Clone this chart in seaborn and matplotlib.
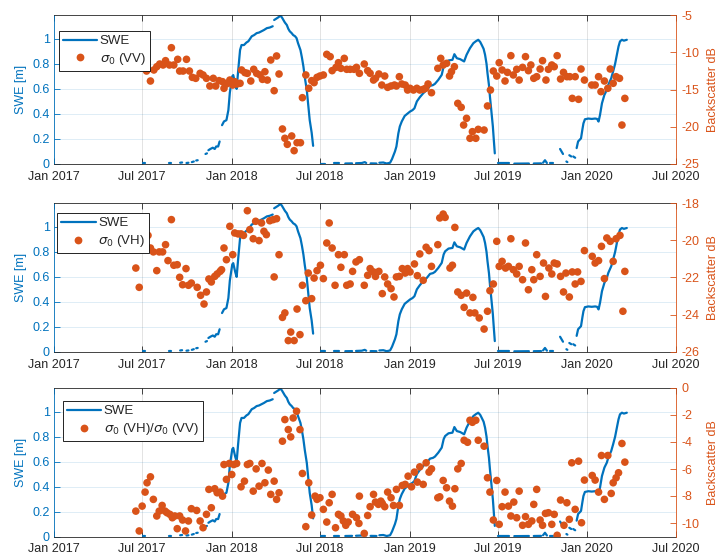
import numpy as np
import pandas as pd
import matplotlib
matplotlib.use("Agg")
import matplotlib.pyplot as plt
import matplotlib.dates as mdates
from matplotlib.lines import Line2D
import seaborn as sns

nan = np.nan

# Observation dates are stored as days since 1 Jan 2017.
START = pd.Timestamp("2017-01-01")
END = pd.Timestamp("2020-07-01")

# Snow water equivalent (m); NaN entries mark gaps in the record
swe_obs = [
    (182, 0.004), (187, 0.004), (188, nan),
    (236, 0.005), (241, 0.005), (242, nan),
    (259, 0.010), (263, 0.012), (264, nan),
    (272, 0.008), (276, 0.010), (277, nan),
    (283, 0.015), (287, 0.020), (288, nan),
    (292, 0.028), (295, 0.030), (296, nan),
    (311, 0.080), (314, 0.085), (315, nan),
    (317, 0.11), (321, 0.12), (326, 0.13), (330, 0.12), (333, 0.14), (337, 0.14), (340, 0.18), (342, nan),
    (345, 0.31), (349, 0.34), (354, 0.35), (358, 0.43), (361, 0.57), (366, 0.70), (368, 0.71),
    (372, 0.64), (375, 0.60), (378, 0.74), (382, 0.91), (385, 0.95), (390, 0.95), (395, 0.97),
    (399, 0.98), (406, 1.02), (411, 1.03), (416, 1.045), (421, 1.05), (426, 1.06), (431, 1.07),
    (437, 1.085), (443, 1.09), (449, 1.10), (450, nan),
    (452, 1.15), (456, 1.16), (460, 1.17), (465, 1.185), (468, 1.17), (471, 1.15), (474, 1.13),
    (478, 1.11), (481, 1.08), (484, 1.06), (488, 1.045), (491, 1.03), (495, 1.02), (498, 1.005),
    (501, 0.965), (506, 0.91), (509, 0.85), (512, 0.78), (515, 0.69), (519, 0.59), (522, 0.47),
    (525, 0.35), (529, 0.25), (532, 0.145), (534, nan),
    (549, 0.003), (556, 0.003), (557, nan),
    (574, 0.004), (586, 0.004), (587, nan),
    (598, 0.004), (612, 0.005), (613, nan),
    (620, 0.006), (632, 0.008), (638, 0.015), (641, 0.008), (642, nan),
    (650, 0.005), (662, 0.004), (663, nan),
    (668, 0.010), (676, 0.012), (683, 0.004), (690, 0.010), (694, 0.040), (697, 0.070),
    (700, 0.100), (703, 0.140), (707, 0.245), (710, 0.300), (714, 0.340), (720, 0.384),
    (725, 0.400), (731, 0.419), (736, 0.430), (740, 0.445), (745, 0.500), (751, 0.533),
    (758, 0.565), (765, 0.590), (772, 0.624), (778, 0.630), (782, 0.640), (789, 0.672),
    (796, 0.712), (800, 0.780), (803, 0.805), (810, 0.827), (818, 0.832), (822, 0.877),
    (827, 0.845), (834, 0.837), (842, 0.819), (847, 0.872), (854, 0.925), (861, 0.965),
    (866, 0.980), (871, 0.992), (875, 0.975), (878, 0.952), (882, 0.920), (885, 0.872),
    (888, 0.800), (890, 0.725), (893, 0.630), (895, 0.539), (898, 0.420), (901, 0.300),
    (903, 0.190), (905, 0.085), (906, nan),
    (912, 0.004), (935, 0.004), (936, nan),
    (945, 0.003), (975, 0.004), (976, nan),
    (985, 0.004), (1000, 0.005), (1001, nan),
    (1004, 0.010), (1008, 0.030), (1012, 0.008), (1013, nan),
    (1018, 0.004), (1025, 0.004), (1026, nan),
    (1039, 0.12), (1042, 0.10), (1045, 0.08), (1046, nan),
    (1052, 0.020), (1054, 0.015), (1055, nan),
    (1058, 0.070), (1062, 0.060), (1063, nan),
    (1066, 0.060), (1070, 0.050), (1071, nan),
    (1073, 0.127), (1076, 0.180), (1082, 0.205), (1085, 0.280), (1087, 0.325), (1090, 0.357),
    (1097, 0.363), (1104, 0.360), (1111, 0.363), (1115, 0.360), (1118, 0.339), (1121, 0.392),
    (1125, 0.485), (1130, 0.552), (1135, 0.592), (1138, 0.632), (1144, 0.685), (1148, 0.740),
    (1152, 0.800), (1156, 0.880), (1159, 0.939), (1162, 0.979), (1166, 0.992), (1170, 0.985),
    (1176, 0.992),
]

# Sentinel-1 backscatter, VV polarisation (dB)
vv_obs = [
    (168, -11.27), (190, -12.52), (198, -13.86), (205, -12.38), (211, -11.94),
    (217, -11.58), (224, -11.71), (229, -11.13), (237, -11.71), (241, -9.39),
    (246, -11.71), (254, -10.95), (258, -12.52), (265, -12.52), (272, -10.95),
    (278, -12.52), (284, -13.37), (291, -13.50), (300, -12.83), (306, -13.05),
    (313, -13.50), (320, -14.53), (327, -13.50), (332, -14.53), (339, -13.81),
    (346, -13.95), (349, -14.84), (354, -14.26), (361, -13.73), (367, -14.40),
    (371, -13.95), (376, -14.26), (382, -14.17), (385, -12.38), (392, -12.74),
    (397, -12.83), (404, -13.86), (410, -12.29), (416, -12.83), (423, -13.05),
    (428, -13.64), (433, -12.61), (438, -13.73), (445, -11.04), (452, -15.16),
    (457, -10.50), (462, -12.92), (469, -20.30), (474, -21.55), (479, -22.36),
    (488, -21.24), (493, -23.21), (499, -22.14), (506, -22.14), (510, -16.10),
    (517, -13.05), (523, -14.84), (529, -13.81), (534, -14.08), (540, -13.37),
    (546, -13.19), (553, -13.05), (560, -10.28), (567, -10.59), (571, -12.47),
    (579, -12.03), (584, -11.40), (589, -12.16), (596, -10.82), (601, -12.29),
    (608, -12.29), (616, -12.29), (621, -12.03), (627, -12.83), (637, -11.58),
    (644, -12.47), (649, -12.83), (656, -13.73), (660, -13.50), (667, -12.92),
    (673, -14.40), (679, -13.19), (685, -14.71), (692, -14.53), (699, -14.40),
    (703, -14.53), (709, -13.28), (714, -14.26), (721, -14.40), (726, -15.07),
    (731, -14.84), (738, -15.07), (745, -14.84), (751, -15.07), (758, -14.98),
    (763, -14.84), (768, -14.26), (775, -15.43), (788, -12.16), (794, -10.82),
    (799, -11.71), (806, -11.49), (812, -13.19), (816, -12.61), (822, -11.94),
    (829, -16.86), (836, -17.39), (841, -19.77), (847, -18.87), (854, -21.55),
    (859, -20.66), (866, -21.55), (871, -20.35), (883, -20.44), (890, -17.21),
    (896, -15.07), (902, -12.52), (909, -13.19), (914, -11.40), (920, -12.38),
    (926, -13.86), (931, -12.70), (938, -10.46), (943, -13.05), (950, -12.29),
    (955, -13.73), (962, -12.03), (968, -10.59), (974, -12.47), (979, -11.71),
    (985, -13.50), (991, -13.28), (998, -12.25), (1003, -11.13), (1010, -13.73),
    (1015, -12.29), (1022, -11.71), (1027, -11.94), (1033, -10.46), (1040, -13.59),
    (1046, -12.70), (1053, -13.28), (1059, -13.28), (1064, -16.19), (1070, -13.28),
    (1077, -16.32), (1082, -12.25), (1089, -13.73), (1104, -14.40), (1111, -14.40),
    (1118, -13.28), (1123, -15.29), (1130, -13.86), (1137, -14.84), (1142, -12.25),
    (1148, -14.17), (1154, -13.28), (1161, -13.50), (1166, -19.77), (1172, -16.19),
]

# Sentinel-1 backscatter, VH polarisation (dB)
vh_obs = [
    (168, -21.49), (175, -22.53), (187, -20.05), (193, -19.73), (198, -20.41),
    (204, -20.62), (211, -21.63), (216, -20.62), (223, -20.62), (229, -20.23),
    (234, -21.09), (241, -18.88), (246, -21.34), (253, -21.31), (258, -21.99),
    (264, -22.39), (271, -21.52), (276, -22.42), (282, -22.30), (294, -22.53),
    (301, -22.96), (308, -23.43), (313, -22.78), (318, -22.08), (323, -22.24),
    (330, -21.94), (335, -21.81), (341, -21.67), (344, -21.58), (349, -20.41),
    (354, -21.04), (361, -19.24), (367, -20.77), (371, -19.60), (378, -19.65),
    (384, -19.65), (389, -19.73), (397, -18.40), (402, -19.42), (409, -19.91),
    (414, -18.97), (421, -20.01), (426, -19.06), (431, -19.51), (436, -19.69),
    (443, -18.94), (450, -18.88), (452, -21.97), (457, -18.83), (462, -20.77),
    (469, -24.15), (474, -23.91), (481, -25.40), (486, -24.94), (493, -25.40),
    (499, -23.70), (505, -25.08), (510, -22.42), (517, -23.25), (522, -21.76),
    (529, -23.14), (534, -22.03), (540, -21.63), (547, -21.34), (553, -22.06),
    (560, -20.14), (565, -19.06), (571, -20.41), (577, -22.42), (584, -20.77),
    (589, -21.45), (596, -20.77), (601, -22.42), (608, -22.35), (613, -21.67),
    (620, -21.16), (627, -21.04), (637, -22.42), (644, -21.88), (649, -21.52),
    (656, -21.70), (660, -21.94), (667, -21.67), (674, -22.87), (679, -21.97),
    (685, -22.35), (692, -22.60), (698, -23.05), (703, -21.97), (709, -21.94),
    (715, -21.52), (721, -21.76), (726, -21.52), (731, -21.70), (740, -21.27),
    (746, -21.90), (751, -20.73), (758, -22.15), (764, -20.37), (770, -20.55),
    (775, -21.40), (788, -20.23), (792, -18.79), (799, -18.58), (803, -18.76),
    (813, -21.49), (818, -21.34), (823, -19.30), (829, -22.78), (836, -22.96),
    (842, -23.61), (847, -22.84), (854, -23.91), (860, -23.07), (864, -23.91),
    (873, -24.18), (883, -24.78), (890, -23.82), (895, -22.71), (902, -22.35),
    (909, -20.05), (914, -21.40), (920, -21.13), (927, -21.49), (933, -21.40),
    (938, -19.91), (943, -21.58), (950, -21.81), (955, -21.40), (962, -22.12),
    (968, -20.14), (974, -22.66), (981, -21.58), (985, -22.12), (991, -20.77),
    (998, -21.94), (1005, -21.22), (1009, -23.02), (1016, -21.49), (1022, -21.81),
    (1027, -21.22), (1033, -21.27), (1040, -21.94), (1046, -22.78), (1051, -21.76),
    (1058, -23.05), (1064, -21.70), (1070, -22.35), (1075, -21.70), (1082, -22.21),
    (1089, -20.55), (1105, -20.86), (1111, -21.22), (1118, -21.09), (1124, -20.32),
    (1130, -22.06), (1135, -19.87), (1142, -20.05), (1148, -21.13), (1154, -19.91),
    (1162, -19.73), (1168, -23.82), (1172, -21.67),
]

# Cross-polarisation ratio VH/VV (dB)
ratio_obs = [
    (168, -9.12), (175, -10.59), (181, -8.75), (187, -7.71), (191, -7.02),
    (198, -6.58), (204, -8.25), (211, -9.48), (216, -9.12), (222, -8.70),
    (228, -9.12), (232, -9.24), (238, -9.36), (243, -9.61), (248, -9.48),
    (253, -10.42), (258, -9.48), (264, -9.78), (270, -10.59), (276, -9.85),
    (282, -8.94), (293, -9.07), (300, -9.85), (306, -10.35), (313, -9.36),
    (318, -7.51), (323, -8.87), (330, -7.46), (335, -7.76), (341, -7.71),
    (346, -8.01), (349, -5.67), (354, -6.77), (360, -5.59), (365, -6.41),
    (369, -5.67), (375, -5.59), (384, -7.32), (391, -6.90), (397, -5.67),
    (402, -5.59), (409, -7.64), (415, -5.99), (421, -7.27), (427, -5.59),
    (433, -7.02), (440, -6.08), (445, -7.88), (452, -6.90), (457, -8.25),
    (462, -7.76), (469, -3.94), (474, -2.34), (481, -3.08), (486, -3.62),
    (491, -2.22), (498, -1.72), (505, -3.08), (510, -6.33), (517, -10.27),
    (523, -7.02), (529, -9.41), (536, -8.01), (540, -8.25), (546, -8.13),
    (553, -8.99), (560, -9.93), (565, -8.50), (571, -7.88), (578, -10.35),
    (584, -9.36), (589, -9.48), (594, -9.85), (599, -10.17), (604, -9.93),
    (613, -9.36), (621, -9.61), (626, -10.03), (627, -8.01), (637, -10.77),
    (644, -9.44), (649, -8.79), (656, -7.88), (660, -8.45), (666, -8.62),
    (671, -8.38), (674, -8.55), (679, -8.79), (685, -7.71), (692, -8.13),
    (697, -8.70), (703, -7.51), (709, -8.70), (715, -7.22), (721, -7.14),
    (727, -6.53), (734, -7.32), (740, -6.23), (746, -6.97), (751, -5.84),
    (758, -7.14), (764, -5.54), (770, -6.23), (775, -5.99), (788, -8.13),
    (792, -8.06), (799, -6.85), (806, -7.39), (812, -8.38), (818, -8.75),
    (823, -7.46), (829, -5.99), (836, -5.59), (842, -3.87), (849, -4.02),
    (854, -2.39), (859, -2.54), (866, -2.39), (871, -3.87), (883, -4.31),
    (890, -6.65), (895, -7.71), (902, -9.78), (909, -6.85), (914, -10.10),
    (920, -8.79), (926, -7.71), (933, -8.75), (938, -9.48), (944, -8.45),
    (950, -9.61), (955, -7.64), (962, -10.17), (968, -9.53), (974, -10.10),
    (981, -9.85), (985, -8.62), (991, -7.51), (998, -9.78), (1003, -10.17),
    (1009, -9.29), (1015, -9.24), (1022, -10.10), (1027, -9.36), (1033, -10.91),
    (1040, -8.30), (1047, -10.17), (1053, -8.50), (1058, -9.73), (1063, -5.54),
    (1070, -8.99), (1077, -5.42), (1083, -9.98), (1089, -6.82), (1105, -6.48),
    (1111, -6.82), (1118, -7.71), (1124, -5.00), (1130, -8.25), (1137, -5.00),
    (1144, -7.81), (1148, -7.02), (1154, -6.65), (1159, -6.28), (1166, -4.11),
    (1172, -5.49),
]

swe_ticks = [0, 0.2, 0.4, 0.6, 0.8, 1.0]
swe_tick_labels = ["0", "0.2", "0.4", "0.6", "0.8", "1"]
swe_top = 1.19

panel_labels = [r"$\sigma_0$ (VV)", r"$\sigma_0$ (VH)", r"$\sigma_0$ (VH)/$\sigma_0$ (VV)"]
panel_db_limits = [(-25, -5), (-26, -18), (-11, 0)]
panel_db_ticks = [[-25, -20, -15, -10, -5], [-26, -24, -22, -20, -18], [-10, -8, -6, -4, -2, 0]]

BLUE = "#0072BD"
ORANGE = "#D95319"
DARK = "#262626"


def frame(pairs, col):
    df = pd.DataFrame(pairs, columns=["day", col])
    df["date"] = START + pd.to_timedelta(df["day"], unit="D")
    return df


swe = frame(swe_obs, "swe")
swe["segment"] = swe["swe"].isna().cumsum()
swe = swe.dropna(subset=["swe"])

backscatter = [frame(p, "db") for p in (vv_obs, vh_obs, ratio_obs)]

sns.set_theme(style="white")
plt.rcParams["font.family"] = ["Liberation Sans", "DejaVu Sans"]
plt.rcParams["axes.unicode_minus"] = False
plt.rcParams["mathtext.fontset"] = "dejavusans"

fig = plt.figure(figsize=(7.18, 5.57), dpi=100)
fig.patch.set_facecolor("white")

W = 718.0
H = 557.0
left, right = 54.0, 676.0
rows = [(15.0, 164.0), (203.3, 351.7), (388.0, 536.5)]
legend_anchor = [(0.0076, 0.893), (0.0053, 0.933), (0.014, 0.911)]

for i, (top_px, bot_px) in enumerate(rows):
    rect = [left / W, 1 - bot_px / H, (right - left) / W, (bot_px - top_px) / H]
    ax = fig.add_axes(rect)
    ax2 = ax.twinx()

    sns.lineplot(data=swe, x="date", y="swe", units="segment", estimator=None,
                 color=BLUE, linewidth=1.6, ax=ax, legend=False, sort=True)
    sns.scatterplot(data=backscatter[i], x="date", y="db", color=ORANGE,
                    s=30, edgecolor="none", linewidth=0, ax=ax2, legend=False)

    ax.set_xlim(START, END)
    ax.set_ylim(0, swe_top)
    ax.set_yticks(swe_ticks)
    ax.set_yticklabels(swe_tick_labels)
    ax.xaxis.set_major_locator(mdates.MonthLocator(bymonth=[1, 7]))
    ax.xaxis.set_major_formatter(mdates.DateFormatter("%b %Y"))

    ax2.set_ylim(*panel_db_limits[i])
    ax2.set_yticks(panel_db_ticks[i])
    ax2.set_yticklabels([str(t) for t in panel_db_ticks[i]])

    ax.grid(axis="x", color=DARK, alpha=0.15, linewidth=0.6)
    ax.grid(axis="y", color=BLUE, alpha=0.15, linewidth=0.6)
    ax.set_axisbelow(True)
    ax2.grid(False)

    ax.set_xlabel("")
    ax.set_ylabel("SWE [m]", color=BLUE, fontsize=9, labelpad=4)
    ax2.set_xlabel("")
    ax2.set_ylabel("Backscatter dB", color=ORANGE, fontsize=9, labelpad=5)

    for side in ("top", "bottom"):
        ax.spines[side].set_color(DARK)
        ax.spines[side].set_linewidth(0.6)
        ax2.spines[side].set_visible(False)
    ax.spines["left"].set_color(BLUE)
    ax.spines["left"].set_linewidth(0.6)
    ax.spines["right"].set_visible(False)
    ax2.spines["left"].set_visible(False)
    ax2.spines["right"].set_color(ORANGE)
    ax2.spines["right"].set_linewidth(0.6)

    ax.tick_params(axis="x", direction="in", length=4, width=0.6, color=DARK,
                   labelcolor=DARK, labelsize=9, top=True, bottom=True, pad=5)
    ax.tick_params(axis="y", direction="in", length=4, width=0.6, color=BLUE,
                   labelcolor=BLUE, labelsize=9, left=True, right=False, pad=3)
    ax2.tick_params(axis="y", direction="in", length=4, width=0.6, color=ORANGE,
                    labelcolor=ORANGE, labelsize=9, right=True, left=False, pad=4)

    handles = [
        Line2D([], [], color=BLUE, linewidth=1.6),
        Line2D([], [], color=ORANGE, linestyle="none", marker="o",
               markersize=5.6, markeredgewidth=0),
    ]
    leg = ax2.legend(handles, ["SWE", panel_labels[i]], loc="upper left",
                     bbox_to_anchor=legend_anchor[i], fontsize=9.5,
                     frameon=True, fancybox=False, framealpha=1,
                     edgecolor="black", borderpad=0.3, labelspacing=0.3,
                     handlelength=2.6, handletextpad=0.2, borderaxespad=0)
    leg.get_frame().set_linewidth(0.6)

fig.savefig("out.png", dpi=100, facecolor="white")
